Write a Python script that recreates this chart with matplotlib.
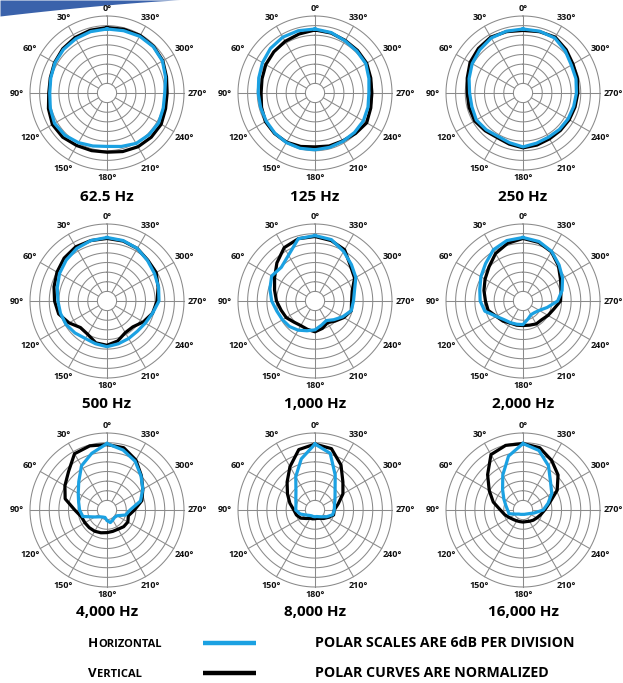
import numpy as np
import matplotlib
matplotlib.use("Agg")
import matplotlib.pyplot as plt

plt.rcParams['font.family'] = ['Open Sans', 'DejaVu Sans']

# polar response, radius in 6 dB divisions from the centre (outer ring = 8)
angles = [0, 15, 30, 45, 60, 75, 90, 105, 120, 135, 150, 165,
          180, 195, 210, 225, 240, 255, 270, 285, 300, 315, 330, 345]

freqs = ["62.5 Hz", "125 Hz", "250 Hz",
         "500 Hz", "1,000 Hz", "2,000 Hz",
         "4,000 Hz", "8,000 Hz", "16,000 Hz"]

h_62 = [6.65, 6.6, 6.5, 6.4, 6.25, 6.05, 5.95, 6.1, 6.3, 6.2, 5.95, 5.7,
        5.55, 5.75, 6.05, 6.15, 6.2, 6.05, 6.0, 6.3, 6.65, 6.8, 6.8, 6.7]
v_62 = [6.8, 6.75, 6.65, 6.5, 6.3, 6.1, 6.05, 6.3, 6.55, 6.5, 6.3, 6.2,
        6.15, 6.3, 6.45, 6.5, 6.5, 6.3, 6.25, 6.4, 6.7, 6.85, 6.9, 6.85]
h_125 = [6.65, 6.7, 6.7, 6.55, 6.3, 6.05, 5.9, 5.85, 5.85, 5.9, 5.95, 5.95,
         5.9, 5.85, 5.8, 5.8, 5.8, 5.7, 5.6, 5.8, 6.1, 6.15, 6.25, 6.5]
v_125 = [6.55, 6.35, 6.2, 6.05, 5.9, 5.7, 5.6, 5.75, 5.95, 5.95, 5.9, 5.75,
         5.6, 5.7, 5.75, 5.95, 6.2, 6.0, 5.9, 6.0, 6.2, 6.25, 6.3, 6.45]
h_250 = [6.65, 6.65, 6.6, 6.35, 6.1, 5.8, 5.55, 5.5, 5.6, 5.4, 5.2, 5.35,
         5.6, 5.4, 5.3, 5.35, 5.4, 5.45, 5.55, 5.7, 5.8, 6.2, 6.6, 6.65]
v_250 = [6.5, 6.6, 6.7, 6.55, 6.35, 6.0, 5.8, 5.8, 5.8, 5.55, 5.35, 5.5,
         5.7, 5.6, 5.5, 5.5, 5.55, 5.6, 5.7, 5.85, 6.0, 6.35, 6.7, 6.6]
h_500 = [6.6, 6.5, 6.3, 6.0, 5.7, 5.35, 5.1, 5.0, 4.9, 4.7, 4.5, 4.6,
         4.75, 4.6, 4.5, 4.45, 4.6, 4.9, 5.4, 5.55, 5.7, 5.95, 6.3, 6.5]
v_500 = [6.5, 6.5, 6.5, 6.3, 6.0, 5.7, 5.45, 5.2, 4.55, 3.9, 4.0, 4.5,
         4.6, 4.3, 3.8, 3.8, 4.35, 4.9, 5.2, 5.5, 5.9, 6.0, 6.3, 6.45]
h_1k = [6.8, 6.7, 5.5, 4.95, 5.2, 4.85, 4.5, 4.1, 3.9, 3.75, 3.5, 3.2,
        3.0, 2.6, 2.35, 2.75, 3.3, 3.9, 4.0, 4.25, 4.9, 5.35, 5.95, 6.6]
v_1k = [6.7, 6.7, 6.4, 5.6, 4.85, 4.35, 4.0, 3.65, 3.45, 3.1, 2.95, 3.05,
        3.2, 2.95, 2.6, 2.95, 3.45, 3.9, 3.8, 4.0, 4.75, 5.2, 6.15, 6.5]
h_2k = [6.6, 6.5, 6.15, 5.5, 5.05, 4.65, 4.45, 4.1, 3.2, 2.75, 2.6, 2.5,
        2.45, 1.95, 1.65, 1.7, 1.95, 2.6, 3.6, 4.2, 4.75, 5.3, 5.95, 6.4]
v_2k = [6.5, 6.2, 5.7, 5.0, 4.55, 4.2, 3.9, 3.75, 3.2, 2.95, 2.65, 2.6,
        2.55, 2.6, 2.75, 2.75, 3.0, 3.3, 3.9, 4.1, 4.5, 5.2, 5.9, 6.3]
h_4k = [6.9, 6.1, 5.3, 4.15, 3.45, 3.05, 2.85, 2.6, 1.45, 1.0, 0.85, 0.8,
        1.1, 1.35, 1.2, 1.1, 1.2, 2.0, 2.4, 3.6, 4.3, 5.0, 5.85, 6.45]
v_4k = [6.8, 6.9, 6.75, 5.65, 5.05, 4.5, 3.35, 2.75, 2.65, 2.6, 2.55, 2.45,
        2.35, 2.3, 2.3, 2.45, 2.5, 2.3, 2.85, 3.75, 4.3, 5.05, 6.0, 6.7]
h_8k = [6.85, 5.5, 4.0, 2.8, 2.3, 2.05, 2.0, 1.6, 1.05, 0.8, 0.7, 0.7,
        0.7, 0.7, 0.8, 1.0, 1.4, 1.9, 2.0, 2.1, 2.4, 2.95, 4.2, 6.1]
v_8k = [6.85, 6.5, 5.2, 4.1, 3.3, 2.7, 2.2, 2.0, 1.7, 1.25, 1.0, 0.95,
        0.9, 0.9, 1.0, 1.25, 1.55, 2.0, 2.0, 2.5, 3.35, 4.1, 5.4, 6.6]
h_16k = [6.9, 5.8, 4.2, 3.0, 2.3, 1.85, 1.6, 1.5, 0.85, 0.6, 0.52, 0.47,
         0.45, 0.47, 0.5, 0.58, 0.75, 1.2, 2.1, 2.7, 3.45, 4.05, 5.3, 6.4]
v_16k = [6.9, 6.95, 6.65, 5.2, 4.05, 3.2, 2.35, 1.95, 1.6, 1.4, 1.3, 1.25,
         1.25, 1.25, 1.35, 1.5, 1.65, 1.9, 2.25, 2.85, 4.1, 5.15, 5.95, 6.7]

horizontal = [h_62, h_125, h_250, h_500, h_1k, h_2k, h_4k, h_8k, h_16k]
vertical = [v_62, v_125, v_250, v_500, v_1k, v_2k, v_4k, v_8k, v_16k]

label_angles = [0, 30, 60, 90, 120, 150, 180, 210, 240, 270, 300, 330]

BLUE = "#1ba1e2"
GRID = "#8a8a8a"
W, H = 623, 683
R_PX = 77
col_x = [107, 315, 523]
row_y = [93, 301, 510]
title_y = [197, 404, 612]

fig = plt.figure(figsize=(W / 100, H / 100), dpi=100)

# background overlay in pixel coordinates (swoosh + legend)
bg = fig.add_axes([0, 0, 1, 1])
bg.set_xlim(0, W)
bg.set_ylim(H, 0)
bg.axis('off')
xs = np.linspace(0, 180, 60)
bg.fill_between(xs, 0, 16 * (1 - xs / 180) ** 1.3, color="#3a62ab", lw=0)


def closed(a, r):
    t = np.deg2rad(np.append(a, a[0]))
    return t, np.append(r, r[0])


ring_t = np.linspace(0, 2 * np.pi, 361)
for i, name in enumerate(freqs):
    cx, cy = col_x[i % 3], row_y[i // 3]
    ax = fig.add_axes([(cx - R_PX) / W, 1 - (cy + R_PX) / H, 2 * R_PX / W, 2 * R_PX / H],
                      projection='polar')
    ax.set_theta_zero_location('N')
    ax.set_theta_direction(1)
    ax.set_ylim(0, 8)
    ax.set_axis_off()

    for r in range(1, 9):
        ax.plot(ring_t, np.full_like(ring_t, r), color=GRID, lw=0.75, clip_on=False, zorder=1)
    for a in label_angles:
        ax.plot([np.deg2rad(a)] * 2, [1, 8], color=GRID, lw=0.75, clip_on=False, zorder=1)
        rr = 8.8 + 0.55 * abs(np.sin(np.deg2rad(a)))
        ax.text(np.deg2rad(a), rr, f"{a}°", ha='center', va='center',
                fontsize=6.5, fontweight='bold', color="#111111")

    t, r = closed(angles, vertical[i])
    ax.plot(t, r, color='black', lw=2.3, solid_joinstyle='round', clip_on=False, zorder=3)
    t, r = closed(angles, horizontal[i])
    ax.plot(t, r, color=BLUE, lw=2.3, solid_joinstyle='round', clip_on=False, zorder=4)

    fig.text(cx / W, 1 - title_y[i // 3] / H, name, ha='center', va='center',
             fontsize=11, fontweight='bold')

# legend
leg_y = [643, 673]
first = ["H", "V"]
rest = ["ORIZONTAL", "ERTICAL"]
colors = [BLUE, "black"]
notes = ["POLAR SCALES ARE 6dB PER DIVISION", "POLAR CURVES ARE NORMALIZED"]
for k in range(2):
    y = leg_y[k]
    t0 = bg.text(88, y + 4, first[k], fontsize=9.5, fontweight='bold', va='baseline')
    bg.annotate(rest[k], xy=(1, 0), xycoords=t0, xytext=(0, 0), textcoords='offset points',
                fontsize=8, fontweight='bold', va='bottom')
    bg.plot([203, 256], [y, y], color=colors[k], lw=3.2, solid_capstyle='butt')
    bg.text(315, y, notes[k], fontsize=10.2, fontweight='bold', va='center')

fig.savefig("out.png", dpi=100)
